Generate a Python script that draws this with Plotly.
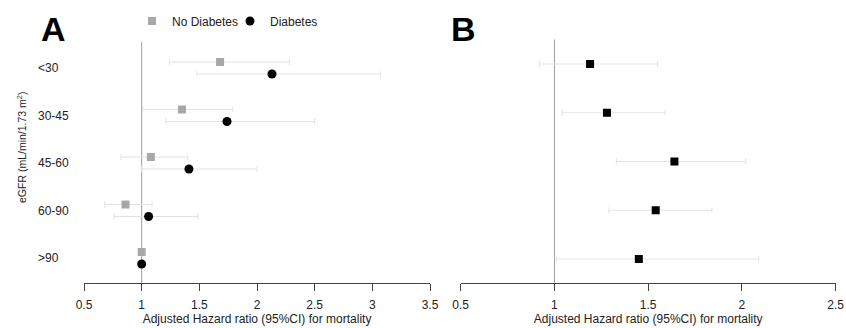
import plotly.graph_objects as go
import numpy as np

# ---- data ----
categories = ["<30", "30-45", "45-60", "60-90", ">90"]
no_dm_hr = [1.68, 1.35, 1.08, 0.86, 1.00]
no_dm_lo = [1.24, 1.01, 0.82, 0.68, None]
no_dm_hi = [2.28, 1.79, 1.40, 1.09, None]
dm_hr = [2.13, 1.74, 1.41, 1.06, 1.00]
dm_lo = [1.48, 1.21, 1.00, 0.76, None]
dm_hi = [3.07, 2.50, 2.00, 1.49, None]
b_hr = [1.19, 1.28, 1.64, 1.54, 1.45]
b_lo = [0.92, 1.04, 1.33, 1.29, 1.01]
b_hi = [1.55, 1.59, 2.02, 1.84, 2.09]
xticks_a = [0.5, 1, 1.5, 2, 2.5, 3, 3.5]
xticks_b = [0.5, 1, 1.5, 2, 2.5]
xtitle = "Adjusted Hazard ratio (95%CI) for mortality"
ytitle = "eGFR (mL/min/1.73 m<sup>2</sup>)"

W, H = 846, 328
FONT = "Liberation Sans, Arial, sans-serif"
ERR_COLOR = "#e3e3e3"


def errs(hr, lo, hi):
    plus = [np.nan if h is None else h - v for v, h in zip(hr, hi)]
    minus = [np.nan if l is None else v - l for v, l in zip(hr, lo)]
    return plus, minus


rows = np.arange(len(categories))
off = 0.126

fig = go.Figure()

p, m = errs(no_dm_hr, no_dm_lo, no_dm_hi)
fig.add_trace(go.Scatter(
    x=no_dm_hr, y=rows - off, mode="markers", name="No Diabetes",
    marker=dict(symbol="square", size=8, color="#a8a8a8"),
    error_x=dict(type="data", array=p, arrayminus=m, color=ERR_COLOR, thickness=1, width=3),
    xaxis="x", yaxis="y"))
p, m = errs(dm_hr, dm_lo, dm_hi)
fig.add_trace(go.Scatter(
    x=dm_hr, y=rows + off, mode="markers", name="Diabetes",
    marker=dict(symbol="circle", size=9, color="black"),
    error_x=dict(type="data", array=p, arrayminus=m, color=ERR_COLOR, thickness=1, width=3),
    xaxis="x", yaxis="y"))
p, m = errs(b_hr, b_lo, b_hi)
fig.add_trace(go.Scatter(
    x=b_hr, y=rows, mode="markers", name="B", showlegend=False,
    marker=dict(symbol="square", size=8, color="black"),
    error_x=dict(type="data", array=p, arrayminus=m, color=ERR_COLOR, thickness=1, width=3),
    xaxis="x2", yaxis="y2"))

ax_common = dict(showgrid=False, zeroline=False, showline=True, linecolor="#444", linewidth=1,
                 ticks="outside", ticklen=7, tickcolor="#444", tickfont=dict(size=12, color="#222"),
                 ticklabelstandoff=4, automargin=False,
                 title=dict(text=xtitle, font=dict(size=12, color="#222"), standoff=2))

y_dom = [(H - 283) / H, (H - 42) / H]

fig.update_layout(
    width=W, height=H,
    margin=dict(l=0, r=0, t=0, b=0, autoexpand=False),
    paper_bgcolor="white", plot_bgcolor="white",
    font=dict(family=FONT, color="#222"),
    xaxis=dict(domain=[84 / W, 430 / W], range=[0.5, 3.5], tickvals=xticks_a,
               ticktext=[f"{v:g}" for v in xticks_a], **ax_common),
    xaxis2=dict(domain=[460.7 / W, 835.7 / W], range=[0.5, 2.5], tickvals=xticks_b,
                ticktext=[f"{v:g}" for v in xticks_b], anchor="y2", **ax_common),
    yaxis=dict(domain=y_dom, range=[(283 - 68) / 47.5, (42 - 68) / 47.5], showgrid=False,
               zeroline=False, showticklabels=False, showline=False, anchor="x", automargin=False),
    yaxis2=dict(domain=y_dom, range=[(283 - 64) / 48.75, (42 - 64) / 48.75], showgrid=False,
                zeroline=False, showticklabels=False, showline=False, anchor="x2", automargin=False),
    legend=dict(orientation="h", x=132 / W, y=(H - 21) / H, xanchor="left", yanchor="middle",
                font=dict(size=12, color="#222"), bgcolor="rgba(0,0,0,0)",
                itemwidth=30, tracegroupgap=0, entrywidth=53, entrywidthmode="pixels"),
    showlegend=True,
)

# reference lines at HR = 1
fig.add_shape(type="line", xref="x", yref="y domain", x0=1, x1=1, y0=0, y1=1,
              line=dict(color="#a0a0a0", width=1), layer="below")
fig.add_shape(type="line", xref="x2", yref="y2 domain", x0=1, x1=1, y0=0, y1=1.01,
              line=dict(color="#a0a0a0", width=1), layer="below")

# category labels (left aligned)
for i, c in enumerate(categories):
    fig.add_annotation(text=c, xref="paper", yref="y", x=36 / W, y=i, xanchor="left",
                       yanchor="middle", showarrow=False, font=dict(size=12, color="#222"))

# y-axis title
fig.add_annotation(text=ytitle, xref="paper", yref="paper", x=21 / W, y=(H - 148) / H,
                   textangle=-90, showarrow=False, xanchor="center", yanchor="middle",
                   font=dict(size=10.5, color="#222"))

# panel letters
fig.add_annotation(text="<b>A</b>", xref="paper", yref="paper", x=39 / W, y=(H - 29) / H,
                   xanchor="left", yanchor="middle", showarrow=False,
                   font=dict(size=34, color="black", family="Liberation Sans, Arial"))
fig.add_annotation(text="<b>B</b>", xref="paper", yref="paper", x=449 / W, y=(H - 29) / H,
                   xanchor="left", yanchor="middle", showarrow=False,
                   font=dict(size=34, color="black", family="Liberation Sans, Arial"))

fig.write_html("out.html", config={"displayModeBar": False},
               post_script="document.body.style.margin='0';document.body.style.overflow='hidden';")
